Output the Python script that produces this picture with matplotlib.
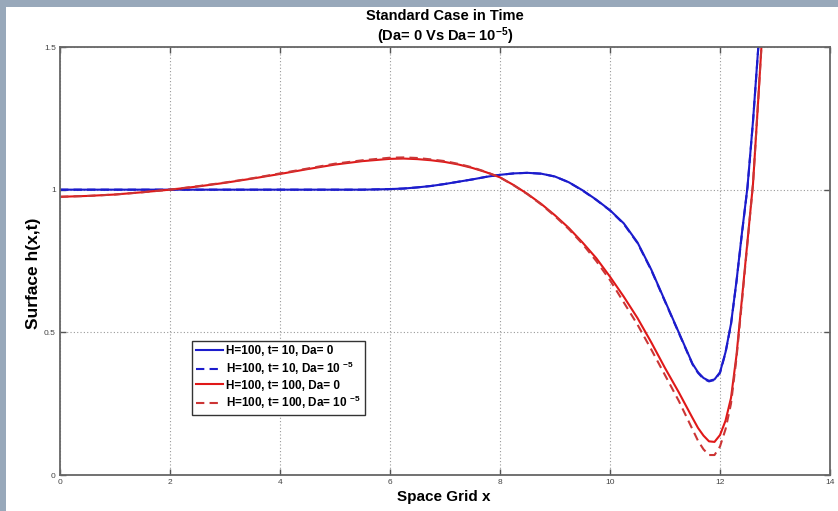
import matplotlib
matplotlib.use("Agg")
import matplotlib.pyplot as plt
from matplotlib.patches import Rectangle

plt.rcParams["mathtext.default"] = "regular"
FONT = ["Liberation Sans", "DejaVu Sans"]

# Spatial grid and surface heights h(x, t)
x_grid = [0.0, 0.5, 1.0, 1.5, 2.0, 2.5, 3.0, 3.5, 4.0, 4.5, 5.0, 5.5,
          6.0, 6.25, 6.5, 6.75, 7.0, 7.25, 7.5, 7.75, 8.0, 8.25, 8.5, 8.75,
          9.0, 9.25, 9.5, 9.75, 10.0, 10.25, 10.5, 10.75, 11.0, 11.25, 11.5,
          11.6, 11.7, 11.8, 11.9, 12.0, 12.1, 12.2, 12.3, 12.4, 12.5, 12.6, 12.7, 12.8]

h_t10_da0 = [1.0, 1.0, 1.0, 1.0, 1.0, 1.0, 1.0, 1.0, 1.0, 1.0, 1.0, 1.0,
             1.002, 1.004, 1.008, 1.013, 1.02, 1.028, 1.036, 1.045, 1.052, 1.057, 1.059, 1.056,
             1.046, 1.026, 0.998, 0.965, 0.928, 0.882, 0.815, 0.72, 0.61, 0.5, 0.39,
             0.36, 0.34, 0.33, 0.335, 0.36, 0.43, 0.53, 0.68, 0.85, 1.01, 1.24, 1.51, 1.8]

h_t10_da5 = [1.0, 1.0, 1.0, 1.0, 1.0, 1.0, 1.0, 1.0, 1.0, 1.0, 1.0, 1.0,
             1.002, 1.004, 1.008, 1.013, 1.02, 1.028, 1.036, 1.045, 1.052, 1.057, 1.059, 1.056,
             1.046, 1.026, 0.997, 0.964, 0.927, 0.88, 0.813, 0.718, 0.608, 0.498, 0.388,
             0.358, 0.337, 0.328, 0.333, 0.358, 0.428, 0.528, 0.678, 0.848, 1.008, 1.238, 1.508, 1.8]

h_t100_da0 = [0.975, 0.978, 0.983, 0.991, 1.0, 1.011, 1.024, 1.039, 1.055, 1.072, 1.088, 1.1,
              1.108, 1.109, 1.107, 1.103, 1.097, 1.088, 1.076, 1.061, 1.043, 1.016, 0.985, 0.95,
              0.91, 0.866, 0.815, 0.76, 0.695, 0.625, 0.55, 0.465, 0.375, 0.29, 0.2,
              0.165, 0.138, 0.118, 0.116, 0.14, 0.19, 0.27, 0.42, 0.62, 0.82, 1.02, 1.33, 1.65]

h_t100_da5 = [0.975, 0.978, 0.983, 0.991, 1.0, 1.012, 1.025, 1.04, 1.057, 1.074, 1.091, 1.103,
              1.112, 1.113, 1.111, 1.106, 1.1, 1.09, 1.078, 1.062, 1.043, 1.015, 0.984, 0.948,
              0.907, 0.862, 0.81, 0.75, 0.683, 0.605, 0.527, 0.44, 0.35, 0.26, 0.16,
              0.12, 0.09, 0.07, 0.07, 0.1, 0.16, 0.25, 0.41, 0.61, 0.815, 1.02, 1.33, 1.65]

series_labels = ["H=100, t= 10, Da= 0",
                 "H=100, t= 10, Da= 10 $^{-5}$",
                 "H=100, t= 100, Da= 0",
                 "H=100, t= 100, Da= 10 $^{-5}$"]

x_ticks = [0, 2, 4, 6, 8, 10, 12, 14]
x_tick_labels = ["0", "2", "4", "6", "8", "10", "12", "14"]
y_ticks = [0, 0.5, 1.0, 1.5]
y_tick_labels = ["0", "0.5", "1", "1.5"]

BLUE = "#1c1ccc"
RED = "#e01818"
RED_DASH = "#cc3535"

fig = plt.figure(figsize=(8.38, 5.11), dpi=100)
fig.patch.set_facecolor("#98a8ba")
fig.add_artist(Rectangle((6 / 838, 0), 1.0, 1 - 7 / 511,
                         transform=fig.transFigure, facecolor="white",
                         edgecolor="none", zorder=-5))

ax = fig.add_axes([60 / 838, 36 / 511, 770 / 838, 428 / 511])

ax.plot(x_grid, h_t10_da0, color=BLUE, lw=1.5, ls="-", label=series_labels[0])
ax.plot(x_grid, h_t10_da5, color=BLUE, lw=1.5, ls=(0, (4, 2.5)), label=series_labels[1])
ax.plot(x_grid, h_t100_da0, color=RED, lw=1.5, ls="-", label=series_labels[2])
ax.plot(x_grid, h_t100_da5, color=RED_DASH, lw=1.5, ls=(0, (4, 2.5)), label=series_labels[3])

ax.set_xlim(0, 14)
ax.set_ylim(0, 1.5)
ax.set_xticks(x_ticks)
ax.set_xticklabels(x_tick_labels)
ax.set_yticks(y_ticks)
ax.set_yticklabels(y_tick_labels)
ax.tick_params(direction="in", length=4, width=1, color="#555555",
               labelsize=6, labelcolor="#444444", top=True, right=True, pad=3)
for lab in ax.get_xticklabels() + ax.get_yticklabels():
    lab.set_family(FONT)

ax.grid(True, ls=(0, (1, 2)), color="#9a9a9a", lw=0.8)
for sp in ax.spines.values():
    sp.set_color("#666666")
    sp.set_linewidth(1.3)

ax.set_xlabel("Space Grid x", family=FONT, fontweight="bold", fontsize=11)
ax.xaxis.label.set_va("center")
ax.xaxis.set_label_coords(0.499, -0.051)
ax.set_ylabel("Surface h(x,t)", family=FONT, fontweight="bold", fontsize=12.5)
ax.yaxis.label.set_va("center")
ax.yaxis.set_label_coords(-0.035, 0.472)

fig.text(445 / 838, 1 - 16 / 511, "Standard Case in Time", family=FONT,
         fontweight="bold", fontsize=10.5, ha="center", va="center")
fig.text(445 / 838, 1 - 36 / 511, "(Da= 0 Vs Da= 10$^{-5}$)", family=FONT,
         fontweight="bold", fontsize=10.5, ha="center", va="center")

leg = ax.legend(loc="upper left", bbox_to_anchor=(0.171, 0.313),
                prop={"family": FONT, "weight": "bold", "size": 8.5},
                frameon=True, fancybox=False, framealpha=1, edgecolor="#333333",
                handlelength=2.3, handletextpad=0.3, borderpad=0.35, labelspacing=0.22,
                borderaxespad=0)
leg.get_frame().set_linewidth(1.0)

fig.savefig("out.png", dpi=100, facecolor=fig.get_facecolor())
